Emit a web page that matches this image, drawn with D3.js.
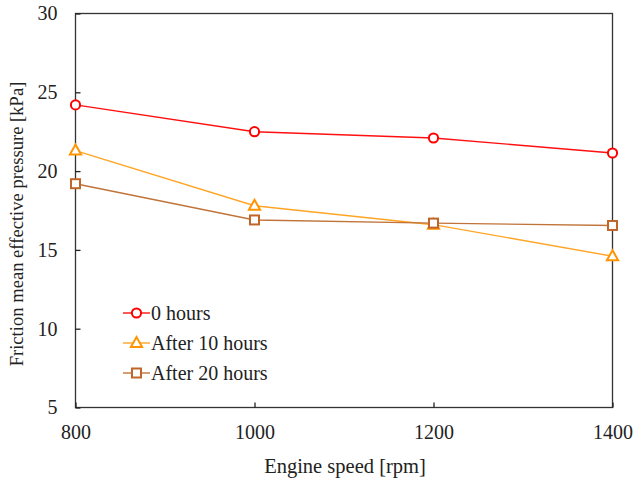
<!DOCTYPE html>
<html><head><meta charset="utf-8">
<script src="https://cdn.jsdelivr.net/npm/d3@7"></script>
<style>body{margin:0;background:#fff}svg{display:block}</style>
</head><body><svg id="c" width="633" height="484"></svg>
<script>
const speeds = [800, 1000, 1200, 1400];
const hours0 = [24.2, 22.5, 22.1, 21.15];
const hours10 = [21.3, 17.8, 16.6, 14.6];
const hours20 = [19.2, 16.9, 16.7, 16.55];
const seriesNames = ["0 hours", "After 10 hours", "After 20 hours"];
const xTicks = [800, 1000, 1200, 1400];
const yTicks = [5, 10, 15, 20, 25, 30];

const FONT = "'Liberation Serif', 'Times New Roman', serif";
const svg = d3.select("#c");
const L = 75.5, R = 612.5, T = 13.5, B = 407.5;
const x = d3.scaleLinear().domain([800, 1400]).range([L, R]);
const y = d3.scaleLinear().domain([5, 30]).range([B, T]);

svg.append("rect").attr("x", L).attr("y", T).attr("width", R - L).attr("height", B - T)
  .attr("fill", "none").attr("stroke", "#333").attr("stroke-width", 1.3);

const yAxis = svg.append("g").attr("transform", `translate(${L},0)`)
  .call(d3.axisLeft(y).tickValues(yTicks).tickSize(-5).tickPadding(18).tickFormat(d3.format("d")));
const xAxis = svg.append("g").attr("transform", `translate(0,${B})`)
  .call(d3.axisBottom(x).tickValues(xTicks).tickSize(-5).tickPadding(17).tickFormat(d3.format("d")));
[yAxis, xAxis].forEach(a => {
  a.select(".domain").remove();
  a.selectAll("line").attr("stroke", "#222").attr("stroke-width", 1.3);
  a.selectAll("text").style("font-family", FONT).style("font-size", "20px").attr("fill", "#222");
});
yAxis.selectAll("text").attr("x", -18);
xAxis.selectAll("text").attr("y", 17);

svg.append("text").attr("x", (L + R) / 2 + 1).attr("y", 473).attr("text-anchor", "middle")
  .style("font-family", FONT).style("font-size", "20.5px").attr("fill", "#222").text("Engine speed [rpm]");
svg.append("text").attr("transform", `translate(23,224) rotate(-90)`)
  .attr("text-anchor", "middle").style("font-family", FONT).style("font-size", "18.6px").attr("fill", "#222")
  .text("Friction mean effective pressure [kPa]");

const series = [
  {name: seriesNames[0], vals: hours0, line: "#FF1010", mark: "#FF0000", shape: "circle"},
  {name: seriesNames[1], vals: hours10, line: "#FFA526", mark: "#FF9500", shape: "triangle"},
  {name: seriesNames[2], vals: hours20, line: "#C0743A", mark: "#C0662A", shape: "square"}
];

function marker(g, shape, color) {
  if (shape === "circle") {
    g.append("circle").attr("r", 4.6).attr("fill", "#fff").attr("stroke", color).attr("stroke-width", 2);
  } else if (shape === "triangle") {
    g.append("path").attr("d", "M0,-6L5.6,4L-5.6,4Z").attr("fill", "#fff").attr("stroke", color).attr("stroke-width", 2);
  } else {
    g.append("rect").attr("x", -4.5).attr("y", -4.5).attr("width", 9).attr("height", 9)
      .attr("fill", "#fff").attr("stroke", color).attr("stroke-width", 2);
  }
}

const line = d3.line().x((d, i) => x(speeds[i])).y(d => y(d));
series.forEach(s => {
  svg.append("path").attr("d", line(s.vals)).attr("fill", "none").attr("stroke", s.line).attr("stroke-width", 1.4);
});
series.forEach(s => {
  s.vals.forEach((v, i) => {
    const g = svg.append("g").attr("transform", `translate(${x(speeds[i])},${y(v)})`);
    marker(g, s.shape, s.mark);
  });
});

const ly = [313, 343, 373];
series.forEach((s, i) => {
  svg.append("line").attr("x1", 123).attr("x2", 150).attr("y1", ly[i]).attr("y2", ly[i])
    .attr("stroke", s.line).attr("stroke-width", 1.4);
  const g = svg.append("g").attr("transform", `translate(136.5,${ly[i]})`);
  marker(g, s.shape, s.mark);
  svg.append("text").attr("x", 151).attr("y", ly[i] + 7).style("font-family", FONT).style("font-size", "20px")
    .attr("fill", "#222").text(s.name);
});
</script></body></html>
